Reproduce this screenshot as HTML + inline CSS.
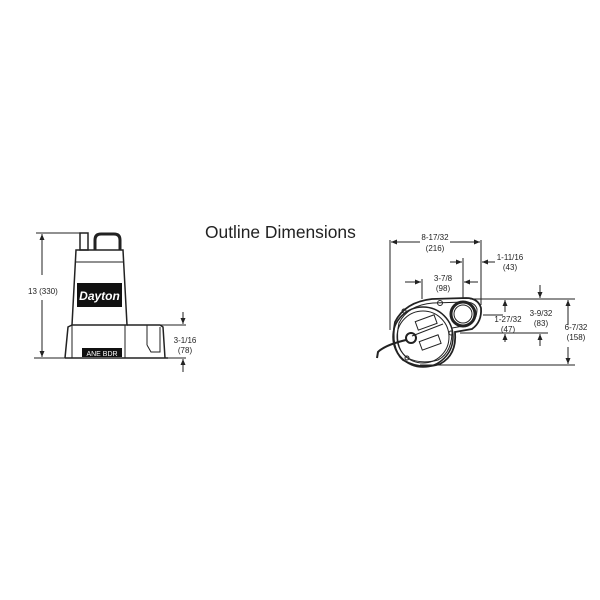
<!DOCTYPE html>
<html><head><style>
html,body{margin:0;padding:0;background:#fff;}
svg{display:block;}
text{font-family:"Liberation Sans",Arial,sans-serif;fill:#222;}
</style></head><body>
<svg width="600" height="600" viewBox="0 0 600 600" xmlns="http://www.w3.org/2000/svg">
<defs>
<marker id="a" markerWidth="6" markerHeight="6" refX="6" refY="3" orient="auto" markerUnits="userSpaceOnUse"><path d="M0,0.5 L6,3 L0,5.5 z" fill="#222"/></marker>
</defs>
<text x="205" y="238" font-size="17.4">Outline Dimensions</text>

<g stroke="#222" fill="none" stroke-width="1">
<line x1="36" y1="233" x2="82" y2="233"/>
<line x1="34" y1="358" x2="70" y2="358"/>
<line x1="42" y1="275" x2="42" y2="234" marker-end="url(#a)"/>
<line x1="42" y1="300" x2="42" y2="357" marker-end="url(#a)"/>
<line x1="140" y1="325" x2="186" y2="325"/>
<line x1="168" y1="358" x2="186" y2="358"/>
<line x1="183" y1="312" x2="183" y2="324" marker-end="url(#a)"/>
<line x1="183" y1="372" x2="183" y2="359" marker-end="url(#a)"/>
<rect x="80" y="233" width="8" height="17" stroke-width="1.5"/>
<path d="M95,250 L95,240 Q95,234 101,234 L114,234 Q120,234 120,240 L120,250" stroke-width="3"/>
<path d="M76,250 L123,250 L127,325 L72,325 Z" stroke-width="1.5"/>
<line x1="76" y1="262" x2="123" y2="262"/>
<path d="M65,358 L68,327 L72,325 M127,325 L160,325 L163,327 L165,358" stroke-width="1.5"/>
<line x1="65" y1="358" x2="168" y2="358" stroke-width="1.5"/>
<line x1="72" y1="325" x2="72" y2="358"/>
<line x1="125" y1="325" x2="125" y2="358"/>
<line x1="147" y1="325" x2="147" y2="345"/>
<path d="M147,345 L151,352 L160,352 L160,327"/>
</g>
<rect x="77" y="283" width="45" height="24" fill="#111"/>
<text x="99.5" y="300" font-size="12" font-weight="bold" font-style="italic" text-anchor="middle" style="fill:#fff">Dayton</text>
<rect x="82" y="348" width="40" height="9" fill="#111"/>
<text x="102" y="356" font-size="7" text-anchor="middle" style="fill:#fff">ANE  BDR</text>
<text x="28" y="294" font-size="8">13 (330)</text>
<text x="185" y="343" font-size="8" text-anchor="middle">3-1/16</text>
<text x="185" y="353" font-size="8" text-anchor="middle">(78)</text>

<g stroke="#222" fill="none" stroke-width="1">
<line x1="390" y1="240" x2="390" y2="330"/>
<line x1="481" y1="240" x2="481" y2="305"/>
<line x1="420" y1="242" x2="391" y2="242" marker-end="url(#a)"/>
<line x1="450" y1="242" x2="480" y2="242" marker-end="url(#a)"/>
<line x1="495" y1="262" x2="482" y2="262" marker-end="url(#a)"/>
<line x1="450" y1="262" x2="462" y2="262" marker-end="url(#a)"/>
<line x1="463" y1="258" x2="463" y2="299"/>
<line x1="422" y1="279" x2="422" y2="299"/>
<line x1="405" y1="282" x2="421" y2="282" marker-end="url(#a)"/>
<line x1="478" y1="282" x2="464" y2="282" marker-end="url(#a)"/>
<line x1="470" y1="299" x2="575" y2="299"/>
<line x1="460" y1="333" x2="548" y2="333"/>
<line x1="420" y1="365" x2="575" y2="365"/>
<line x1="483" y1="315" x2="503" y2="315"/>
<line x1="505" y1="312" x2="505" y2="300" marker-end="url(#a)"/>
<line x1="505" y1="342" x2="505" y2="334" marker-end="url(#a)"/>
<line x1="540" y1="285" x2="540" y2="298" marker-end="url(#a)"/>
<line x1="540" y1="346" x2="540" y2="334" marker-end="url(#a)"/>
<line x1="568" y1="325" x2="568" y2="300" marker-end="url(#a)"/>
<line x1="568" y1="347" x2="568" y2="364" marker-end="url(#a)"/>
<path d="M395,322 Q405,302 432,299 L466,298 Q478,298 481,308 Q482,322 472,329 L455,332 Q457,355 440,364 Q420,370 403,360 Q390,348 395,322 Z" stroke-width="1.8"/>
<path d="M399,323 Q408,305 433,303 L465,302 Q475,302 477,309 Q477,320 469,325 L452,328 Q453,352 438,360 Q420,365 406,357 Q394,346 399,323 Z"/>
<circle cx="423" cy="337" r="30" stroke-width="1.5"/>
<circle cx="423" cy="337" r="26"/>
<circle cx="463" cy="314" r="12" stroke-width="3"/>
<circle cx="463" cy="314" r="9"/>
<circle cx="440" cy="303" r="2.5"/>
<circle cx="451" cy="333" r="2"/>
<circle cx="404" cy="311" r="2"/>
<circle cx="407" cy="358" r="2"/>
<rect x="416" y="318" width="20" height="9" transform="rotate(-20 426 322)"/>
<rect x="420" y="338" width="20" height="9" transform="rotate(-20 430 342)"/>
<line x1="412" y1="336" x2="443" y2="324"/>
<circle cx="411" cy="338" r="5" stroke-width="2"/>
<path d="M406,340 Q385,345 378,352 L377,358" stroke-width="2"/>
</g>
<g font-size="8" text-anchor="middle">
<text x="435" y="240">8-17/32</text><text x="435" y="251">(216)</text>
<text x="510" y="260">1-11/16</text><text x="510" y="270">(43)</text>
<text x="443" y="281">3-7/8</text><text x="443" y="291">(98)</text>
<text x="508" y="322">1-27/32</text><text x="508" y="332">(47)</text>
<text x="541" y="316">3-9/32</text><text x="541" y="326">(83)</text>
<text x="576" y="330">6-7/32</text><text x="576" y="340">(158)</text>
</g>
</svg>
</body></html>
